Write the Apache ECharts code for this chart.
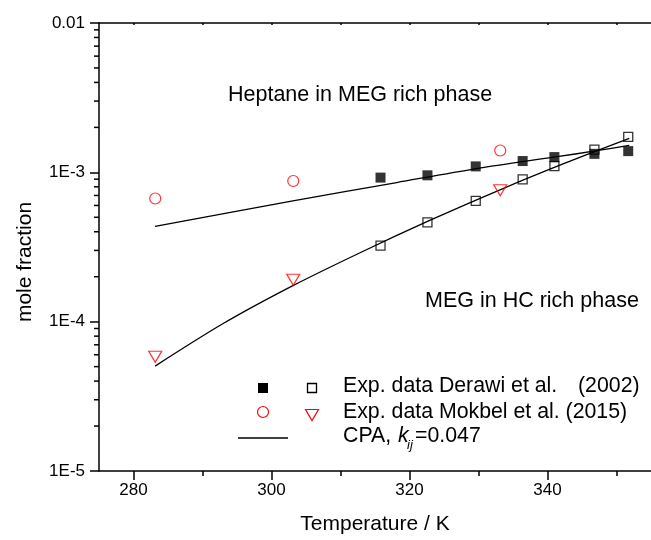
<!DOCTYPE html>
<html>
<head>
<meta charset="utf-8">
<script src="https://cdn.jsdelivr.net/npm/echarts@6/dist/echarts.min.js"></script>
<style>html,body{margin:0;padding:0;background:#fff;}#c{width:651px;height:540px;}</style>
</head>
<body>
<div id="c"></div>
<script>
// ---- data ----
const derawiT = [315.8, 322.6, 329.6, 336.4, 341.0, 346.8, 351.7];
const derawiHeptane = [9.22e-4, 9.55e-4, 1.096e-3, 1.19e-3, 1.265e-3, 1.33e-3, 1.387e-3];
const derawiMEG = [3.23e-4, 4.62e-4, 6.44e-4, 8.98e-4, 1.10e-3, 1.42e-3, 1.73e-3];
const mokbelT = [283.15, 303.15, 333.15];
const mokbelHeptane = [6.68e-4, 8.75e-4, 1.40e-3];
const mokbelMEG = [5.82e-5, 1.91e-4, 7.59e-4];
const cpaHeptaneT = [283.13, 303.1, 318.15, 329.72, 341.14, 346.9, 351.85];
const cpaHeptane = [4.35e-4, 6.44e-4, 8.54e-4, 1.059e-3, 1.268e-3, 1.39e-3, 1.514e-3];
const cpaMEGT = [283.13, 293.06, 303.1, 313.14, 323.17, 333.21, 342.53, 351.85];
const cpaMEG = [5.04e-5, 9.75e-5, 1.742e-4, 2.94e-4, 4.82e-4, 7.67e-4, 1.151e-3, 1.687e-3];
const xMajorTicks = [280, 300, 320, 340];
const xMinorTicks = [290, 310, 330, 350];
const xTopTicks = [280, 290, 300, 310, 320, 330, 340, 350];
const yTickValues = [1e-5, 1e-4, 1e-3, 1e-2];
const yTickLabels = ['1E-5', '1E-4', '1E-3', '0.01'];
const yMinorTicks = [2e-5, 3e-5, 4e-5, 5e-5, 6e-5, 7e-5, 8e-5, 9e-5,
                     2e-4, 3e-4, 4e-4, 5e-4, 6e-4, 7e-4, 8e-4, 9e-4,
                     2e-3, 3e-3, 4e-3, 5e-3, 6e-3, 7e-3, 8e-3, 9e-3];

const FONT = '"Liberation Sans", Arial, sans-serif';
const zip = (a, b) => a.map((v, i) => [v, b[i]]);

function yLabel(v) {
  for (let i = 0; i < yTickValues.length; i++) {
    if (Math.abs(Math.log10(v) - Math.log10(yTickValues[i])) < 1e-6) return yTickLabels[i];
  }
  return '';
}

const chart = echarts.init(document.getElementById('c'), null, {renderer: 'canvas'});
const axisLineStyle = {color: '#000', width: 1.5};

const option = {
  backgroundColor: '#fff',
  animation: false,
  grid: {left: 99, top: 23, right: -6, bottom: 67, containLabel: false},
  xAxis: [
    {
      type: 'value', min: 275, max: 355, position: 'bottom',
      axisLine: {show: true, onZero: false, lineStyle: axisLineStyle},
      axisTick: {show: true, inside: false, length: 9, lineStyle: {color: '#000', width: 1.5}, customValues: xMajorTicks},
      axisLabel: {show: true, customValues: xMajorTicks, fontSize: 17, color: '#000', fontFamily: FONT, margin: 11},
      splitLine: {show: false},
      name: 'Temperature / K', nameLocation: 'middle', nameGap: 43,
      nameTextStyle: {fontSize: 21, color: '#000', fontFamily: FONT}
    },
    {
      type: 'value', min: 275, max: 355, position: 'bottom',
      axisLine: {show: false},
      axisTick: {show: true, inside: false, length: 5, lineStyle: {color: '#000', width: 1.5}, customValues: xMinorTicks},
      axisLabel: {show: false},
      splitLine: {show: false}
    },
    {
      type: 'value', min: 275, max: 355, position: 'top',
      axisLine: {show: true, onZero: false, lineStyle: axisLineStyle},
      axisTick: {show: true, inside: true, length: 2, lineStyle: {color: '#000', width: 1.5}, customValues: xTopTicks},
      axisLabel: {show: false},
      splitLine: {show: false}
    }
  ],
  yAxis: [{
    type: 'log', logBase: 10, min: 1e-5, max: 1e-2,
    axisLine: {show: true, onZero: false, lineStyle: axisLineStyle},
    axisTick: {show: true, inside: false, length: 9, lineStyle: {color: '#000', width: 1.5}},
    axisLabel: {fontSize: 17, color: '#000', fontFamily: FONT, margin: 14, formatter: yLabel},
    splitLine: {show: false},
    minorTick: {show: false}
  }],
  series: [
    {
      name: 'yMinor', type: 'custom', silent: true, clip: false,
      data: yMinorTicks.map(v => [275, v]),
      encode: {x: 0, y: 1},
      renderItem: function (params, api) {
        const p = api.coord([api.value(0), api.value(1)]);
        return {type: 'line', shape: {x1: p[0] - 5, y1: p[1], x2: p[0], y2: p[1]},
                style: {stroke: '#000', lineWidth: 1.5}};
      }
    },
    {
      name: 'CPA heptane', type: 'line', data: zip(cpaHeptaneT, cpaHeptane),
      showSymbol: false, smooth: 0.3, lineStyle: {color: '#000', width: 1.3}, z: 2
    },
    {
      name: 'CPA MEG', type: 'line', data: zip(cpaMEGT, cpaMEG),
      showSymbol: false, smooth: 0.3, lineStyle: {color: '#000', width: 1.3}, z: 2
    },
    {
      name: 'Derawi heptane', type: 'scatter', data: zip(derawiT, derawiHeptane),
      symbol: 'rect', symbolSize: 10, itemStyle: {color: '#000'}, z: 3
    },
    {
      name: 'Derawi MEG', type: 'scatter', data: zip(derawiT, derawiMEG),
      symbol: 'rect', symbolSize: 9, itemStyle: {color: 'rgba(255,255,255,0)', borderColor: '#000', borderWidth: 1.3}, z: 3
    },
    {
      name: 'Mokbel heptane', type: 'scatter', data: zip(mokbelT, mokbelHeptane),
      symbol: 'circle', symbolSize: 11, itemStyle: {color: 'rgba(255,255,255,0)', borderColor: '#ff0000', borderWidth: 1.2}, z: 3
    },
    {
      name: 'Mokbel MEG', type: 'scatter', data: zip(mokbelT, mokbelMEG),
      symbol: 'triangle', symbolRotate: 180, symbolSize: [13, 11], itemStyle: {color: 'rgba(255,255,255,0)', borderColor: '#ff0000', borderWidth: 1.2}, z: 3
    }
  ],
  graphic: [
    {type: 'text', x: 25, y: 262, rotation: Math.PI / 2,
     style: {text: 'mole fraction', font: '21px ' + FONT, fill: '#000', align: 'center', verticalAlign: 'middle'}},
    {type: 'text', left: 228, top: 84, style: {text: 'Heptane in MEG rich phase', font: '21.5px ' + FONT, fill: '#000'}},
    {type: 'text', left: 425, top: 290, style: {text: 'MEG in HC rich phase', font: '21.5px ' + FONT, fill: '#000'}},
    // legend
    {type: 'rect', shape: {x: 258, y: 383, width: 10, height: 10}, style: {fill: '#000'}},
    {type: 'rect', shape: {x: 307.5, y: 383.5, width: 9, height: 9}, style: {fill: 'none', stroke: '#000', lineWidth: 1.3}},
    {type: 'circle', shape: {cx: 263, cy: 412, r: 5.5}, style: {fill: 'none', stroke: '#ff0000', lineWidth: 1.2}},
    {type: 'polygon', shape: {points: [[305.5, 409.5], [318.5, 409.5], [312, 420.5]]}, style: {fill: 'none', stroke: '#ff0000', lineWidth: 1.2}},
    {type: 'line', shape: {x1: 238, y1: 438, x2: 288, y2: 438}, style: {stroke: '#000', lineWidth: 1.3}},
    {type: 'text', left: 343, top: 376, style: {text: 'Exp. data Derawi et al.', font: '21.3px ' + FONT, fill: '#000'}},
    {type: 'text', left: 578, top: 376, style: {text: '(2002)', font: '21.3px ' + FONT, fill: '#000'}},
    {type: 'text', left: 343, top: 402, style: {text: 'Exp. data Mokbel et al. (2015)', font: '21.3px ' + FONT, fill: '#000'}},
    {type: 'text', left: 343, top: 426, style: {text: 'CPA, ', font: '21.3px ' + FONT, fill: '#000'}},
    {type: 'text', left: 398, top: 426, style: {text: 'k', font: 'italic 21.3px ' + FONT, fill: '#000'}},
    {type: 'text', left: 407, top: 439, style: {text: 'ij', font: 'italic 13px ' + FONT, fill: '#000'}},
    {type: 'text', left: 415, top: 426, style: {text: '=0.047', font: '21.3px ' + FONT, fill: '#000'}}
  ]
};
chart.setOption(option);
</script>
</body>
</html>
